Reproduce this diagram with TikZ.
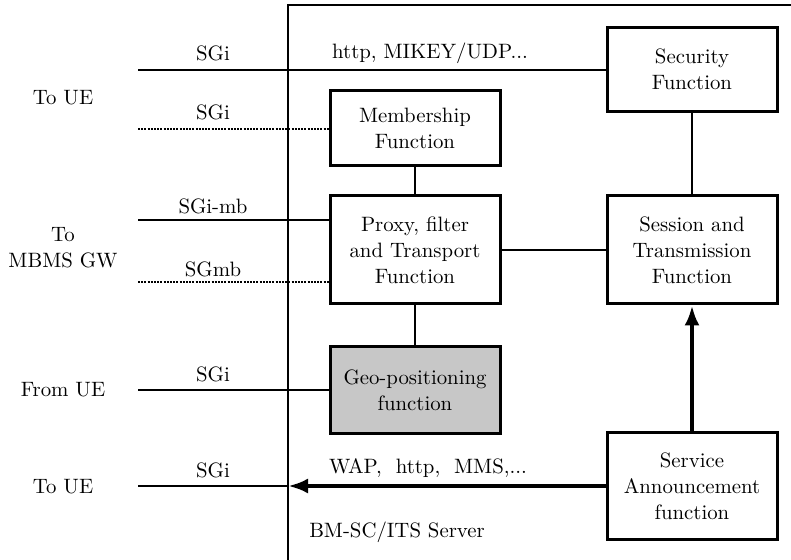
\documentclass[tikz,border=0pt]{standalone}
\usetikzlibrary{arrows.meta}
\begin{document}
\begin{tikzpicture}[x=0.5pt,y=-0.5pt,
  every node/.style={font=\fontsize{10.4}{13.1}\selectfont},
  fbox/.style={draw,line width=1.5pt,minimum width=85pt,align=center,inner sep=0pt},
  lbl/.style={align=center,inner sep=0pt},
  link/.style={line width=1pt},
  dotlink/.style={line width=1pt,dash pattern=on 1pt off 0.6pt},
  bigarrow/.style={line width=2pt,-{Latex[length=10pt,width=7.5pt]}}]
\useasboundingbox (0,0) rectangle (791,560);
\clip (0,0) rectangle (791,560);

% server frame
\coordinate (fb) at (288,570);
\coordinate (fc) at (288,5);
\coordinate (fr) at (800,5);
\draw[link] (fb) -- (fc) -- (fr);

% function boxes
\node[fbox,minimum height=42pt] (sec) at (692,69.5) {Security\\Function};
\node[fbox,minimum height=37.5pt] (mem) at (415,128.5) {Membership\\Function};
\node[fbox,minimum height=54pt] (prx) at (415,250) {Proxy, filter\\and Transport\\Function};
\node[fbox,minimum height=54pt] (ses) at (692,250) {Session and\\Transmission\\Function};
\node[fbox,minimum height=43pt,fill=black!22] (geo) at (415,390) {Geo-positioning\\function};
\node[fbox,minimum height=53.5pt] (sa) at (692,486) {Service\\Announcement\\function};

% external side labels
\node[lbl] (ue1) at (63,98) {To UE};
\node[lbl] (gw) at (63,248) {To\\MBMS GW};
\node[lbl] (ue2) at (63,390) {From UE};
\node[lbl] (ue3) at (63,487) {To UE};
\node[lbl] (srv) at (397,532) {BM-SC/ITS Server};

% interface line ends
\coordinate (a1) at (138,70);
\coordinate (a2) at (138,129);
\coordinate (a3) at (138,220.5);
\coordinate (a4) at (138,282);
\coordinate (a5) at (138,390);
\coordinate (a6) at (138,486);
\coordinate (edge) at (288,486);

% interfaces
\draw[link] (a1) -- (a1 -| sec.west);
\draw[dotlink] (a2) -- (a2 -| mem.west);
\draw[link] (a3) -- (a3 -| prx.west);
\draw[dotlink] (a4) -- (a4 -| prx.west);
\draw[link] (a5) -- (a5 -| geo.west);
\draw[link] (a6) -- (edge);
\draw[bigarrow] (sa.west |- edge) -- (edge);

% interface labels
\node[lbl] (t1) at (213,53) {SGi};
\node[lbl] (t1b) at (430,53) {http, MIKEY/UDP...};
\node[lbl] (t2) at (213,112) {SGi};
\node[lbl] (t3) at (213,206) {SGi-mb};
\node[lbl] (t4) at (213,269) {SGmb};
\node[lbl] (t5) at (213,374) {SGi};
\node[lbl] (t6) at (213,470) {SGi};
\node[lbl] (t6b) at (428,468) {WAP,\ \ http,\ \ MMS,...};

% internal connections
\draw[link] (mem) -- (prx);
\draw[link] (prx) -- (geo);
\draw[link] (prx) -- (ses);
\draw[link] (sec) -- (ses);
\draw[bigarrow] (sa) -- (ses);
\end{tikzpicture}
\end{document}
